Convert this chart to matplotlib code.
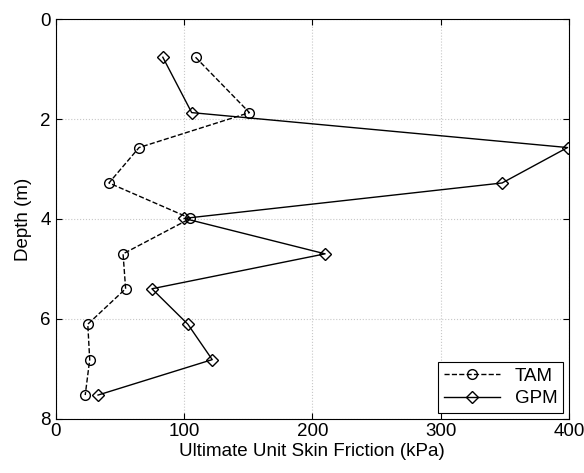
import matplotlib.pyplot as plt

plt.rcParams['font.family'] = ['Liberation Sans', 'DejaVu Sans']

depth = [0.76, 1.87, 2.57, 3.28, 3.99, 4.70, 5.40, 6.11, 6.82, 7.53]
tam = [109, 151, 65, 41.5, 105, 52.5, 54.5, 25, 26.5, 23]
gpm = [83.5, 106, 399, 348, 100, 210, 75, 103, 122, 33]

fig = plt.figure(figsize=(5.84, 4.73), dpi=100)
ax = fig.add_axes([0.0954, 0.1152, 0.8786, 0.8440])

ax.plot(tam, depth, 'k--o', lw=1, ms=7, mew=1, fillstyle='none', label='TAM')
ax.plot(gpm, depth, 'k-D', lw=1, ms=6, mew=1, fillstyle='none', label='GPM')

ax.set_xlim(0, 400)
ax.set_ylim(8, 0)
ax.set_xticks([0, 100, 200, 300, 400])
ax.set_yticks([0, 2, 4, 6, 8])
ax.grid(True, color='#c8c8c8', linestyle=':', linewidth=0.8)
ax.tick_params(direction='in', labelsize=13.5, length=4, top=True, right=True,
               labeltop=False, labelright=False)
ax.set_xlabel('Ultimate Unit Skin Friction (kPa)', fontsize=13.5, labelpad=2)
ax.set_ylabel('Depth (m)', fontsize=13.5, labelpad=6)

leg = ax.legend(loc='lower right', fontsize=13.5, fancybox=False, edgecolor='black',
                framealpha=1, borderaxespad=0.3, handlelength=3,
                borderpad=0.3, labelspacing=0.3)
leg.get_frame().set_linewidth(0.8)

fig.savefig('out.png', dpi=100)
